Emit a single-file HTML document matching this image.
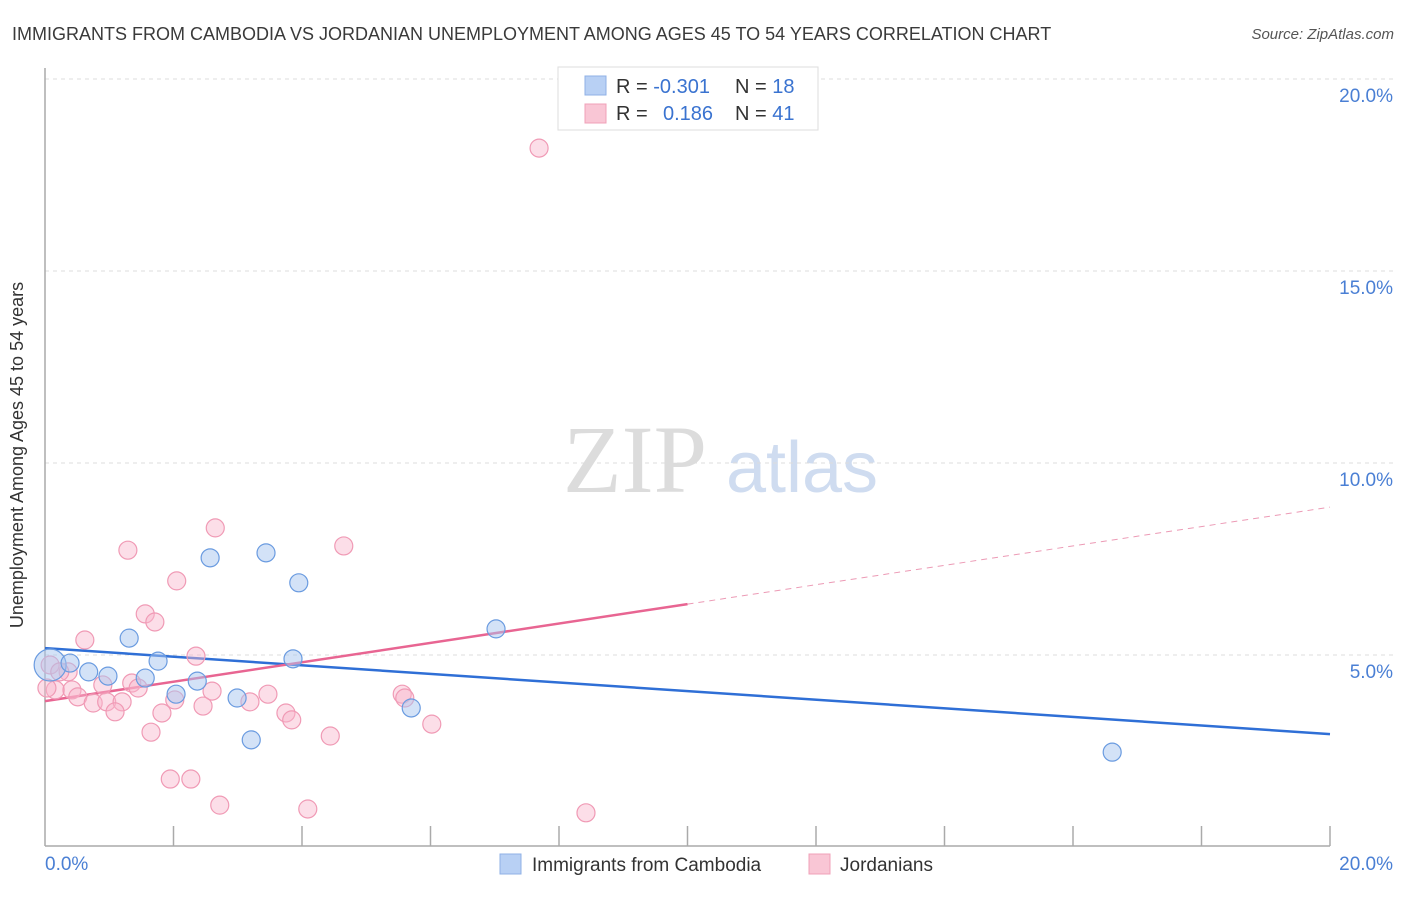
<!DOCTYPE html>
<html><head><meta charset="utf-8"><style>
body{margin:0;background:#fff;font-family:"Liberation Sans",sans-serif;}
</style></head><body>
<svg id="chart" width="1406" height="892" xmlns="http://www.w3.org/2000/svg" font-family="Liberation Sans, sans-serif">
<text x="12" y="40" font-size="18" fill="#3a3a3a">IMMIGRANTS FROM CAMBODIA VS JORDANIAN UNEMPLOYMENT AMONG AGES 45 TO 54 YEARS CORRELATION CHART</text>
<text x="1394" y="39" font-size="15" font-style="italic" fill="#555" text-anchor="end">Source: ZipAtlas.com</text>
<text x="635" y="492" font-size="96" font-family="Liberation Serif, serif" fill="#dcdcdc" text-anchor="middle">ZIP</text>
<text x="802" y="492" font-size="72" fill="#cfdcf0" text-anchor="middle">atlas</text>
<g id="grid"></g>
<line x1="45" y1="68" x2="45" y2="846" stroke="#aaa" stroke-width="1.5"/>
<line x1="45" y1="846" x2="1330" y2="846" stroke="#aaa" stroke-width="1.5"/>
<text x="23" y="455" font-size="18" fill="#333" text-anchor="middle" transform="rotate(-90 23 455)">Unemployment Among Ages 45 to 54 years</text>
<text x="45" y="870" font-size="19" fill="#4a7fd4">0.0%</text>
<text x="1393" y="870" font-size="19" fill="#4a7fd4" text-anchor="end">20.0%</text>
<g id="lines"></g>
<g id="points"></g>
<g>
<rect x="558" y="67" width="260" height="63" fill="#fff" stroke="#ddd"/>
<rect x="585" y="76" width="21" height="19" fill="#b8d0f4" stroke="#8fb0e6"/>
<rect x="585" y="104" width="21" height="19" fill="#f9c6d5" stroke="#f0a0b8"/>
<text x="616" y="93" font-size="20" fill="#333">R = <tspan fill="#3a73d0">-0.301</tspan></text>
<text x="735" y="93" font-size="20" fill="#333">N = <tspan fill="#3a73d0">18</tspan></text>
<text x="616" y="120" font-size="20" fill="#333">R = <tspan fill="#3a73d0" x="663">0.186</tspan></text>
<text x="735" y="120" font-size="20" fill="#333">N = <tspan fill="#3a73d0">41</tspan></text>
</g>
<g>
<rect x="500" y="854" width="21" height="20" fill="#b8d0f4" stroke="#8fb0e6"/>
<text x="532" y="871" font-size="19" fill="#333">Immigrants from Cambodia</text>
<rect x="809" y="854" width="21" height="20" fill="#f9c6d5" stroke="#f0a0b8"/>
<text x="840" y="871" font-size="19" fill="#333">Jordanians</text>
</g>
</svg>
<script>
const yTicks=[5,10,15,20];
const yTickLabels=["5.0%","10.0%","15.0%","20.0%"];
const blueX=[0.08,0.39,0.68,0.98,1.31,1.56,1.76,2.04,2.37,2.57,2.99,3.21,3.44,3.86,3.95,5.70,7.02,16.61];
const blueY=[4.74,4.79,4.56,4.45,5.44,4.40,4.84,3.98,4.32,7.53,3.88,2.79,7.66,4.90,6.88,3.62,5.68,2.47];
const pinkX=[2.65,1.29,4.65,2.05,1.56,1.71,0.62,2.35,0.36,0.16,0.42,0.51,0.75,0.90,0.96,1.20,1.09,1.35,1.45,2.02,2.60,2.46,1.82,1.65,3.19,3.47,3.75,3.84,4.44,5.56,5.60,6.02,1.95,2.27,2.72,4.09,7.69,8.42,0.08,0.23,0.03];
const pinkY=[8.31,7.73,7.84,6.93,6.07,5.86,5.39,4.97,4.56,4.09,4.09,3.91,3.75,4.22,3.78,3.78,3.52,4.27,4.14,3.83,4.06,3.67,3.49,2.99,3.78,3.98,3.49,3.31,2.89,3.98,3.88,3.20,1.77,1.77,1.09,0.99,18.20,0.89,4.74,4.56,4.14];
const blueTrend=[5.18,2.94];
const pinkTrend=[3.80,8.85];
const pinkSolidEnd=10;
const sx=v=>45+v*64.25;
const sy=v=>847-v*38.4;
const NS="http://www.w3.org/2000/svg";
function mk(t,a,p){const e=document.createElementNS(NS,t);for(const k in a)e.setAttribute(k,a[k]);p.appendChild(e);return e;}
const grid=document.getElementById('grid');
yTicks.forEach((t,i)=>{
  const l=mk('line',{x1:45,x2:1393,y1:sy(t),y2:sy(t),stroke:'#ddd','stroke-dasharray':'4,4'},grid);
  
  
  const tx=mk('text',{x:1393,y:sy(t)+23,'font-size':19,fill:'#4a7fd4','text-anchor':'end'},grid);
  tx.textContent=yTickLabels[i];
  
  
});
for(let k=1;k<=10;k++){
  const l=mk('line',{x1:sx(k*2),x2:sx(k*2),y1:826,y2:846,stroke:'#aaa','stroke-width':1.5},grid);
  
  
}
const pts=document.getElementById('points');
pinkX.forEach((x,i)=>{
  const c=mk('circle',{cx:sx(x),cy:sy(pinkY[i]),r:9,fill:'rgba(248,182,203,0.45)',stroke:'#f09ab5','stroke-width':1.2},pts);
  
  
});
blueX.forEach((x,i)=>{
  const c=mk('circle',{cx:sx(x),cy:sy(blueY[i]),r:i===0?16:9,fill:'rgba(168,198,240,0.5)',stroke:'#6a9be0','stroke-width':1.2},pts);
  
  
});
const ln=document.getElementById('lines');
const bl=mk('line',{x1:sx(0),y1:sy(blueTrend[0]),x2:sx(20),y2:sy(blueTrend[1]),stroke:'#2f6fd6','stroke-width':2.5},ln);


const pm=pinkTrend[0]+(pinkTrend[1]-pinkTrend[0])*pinkSolidEnd/20;
const pl=mk('line',{x1:sx(0),y1:sy(pinkTrend[0]),x2:sx(pinkSolidEnd),y2:sy(pm),stroke:'#e86592','stroke-width':2.5},ln);


const pd=mk('line',{x1:sx(pinkSolidEnd),y1:sy(pm),x2:sx(20),y2:sy(pinkTrend[1]),stroke:'#ec9ab5','stroke-width':1,'stroke-dasharray':'6,5'},ln);


</script>
</body></html>
